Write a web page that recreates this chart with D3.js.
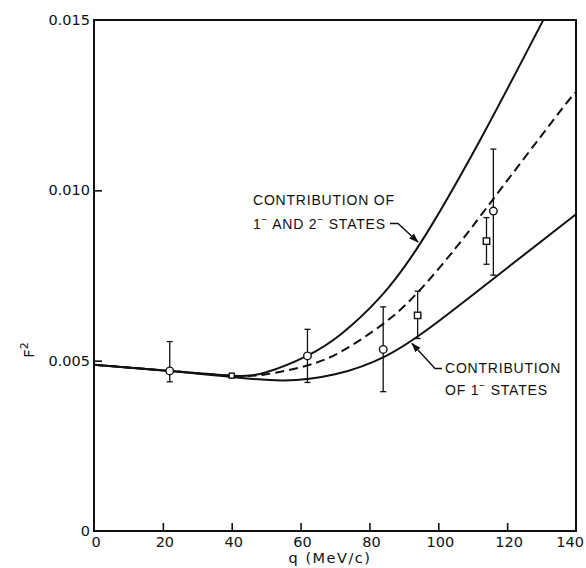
<!DOCTYPE html>
<html>
<head>
<meta charset="utf-8">
<script src="https://cdn.jsdelivr.net/npm/d3@7"></script>
<style>
  body { margin: 0; background: #fff; }
  svg { display: block; }
  .lbl { font-family: "Liberation Sans", Arial, sans-serif; font-size: 14px; letter-spacing: 0.8px; fill: #111; }
  .tick { font-family: "DejaVu Sans", sans-serif; font-size: 14.5px; fill: #111; }
</style>
</head>
<body>
<svg id="chart" width="586" height="568"></svg>
<script>
// curves (q in MeV/c, F^2)
var qBoth =   [0, 22, 40, 50, 62, 72, 83, 95, 112, 130.5]
var fBoth =   [0.00488, 0.00470, 0.00456, 0.00466, 0.00515, 0.00580, 0.00685, 0.00848, 0.01145, 0.01500]
var qOne =    [0, 22, 40, 55, 70, 85, 100, 120, 140]
var fOne =    [0.00488, 0.00470, 0.00452, 0.00442, 0.00460, 0.00515, 0.00615, 0.00772, 0.00930]
var qDash =   [0, 22, 40, 50, 62, 72, 84, 94, 105, 116, 133.4, 140]
var fDash =   [0.00488, 0.00470, 0.00456, 0.00460, 0.00486, 0.00528, 0.00608, 0.00700, 0.00830, 0.00975, 0.01206, 0.01290]

// measured points
var circQ =   [22, 62, 84, 116]
var circF =   [0.00470, 0.00514, 0.00533, 0.00939]
var circLo =  [0.00438, 0.00436, 0.00409, 0.00751]
var circHi =  [0.00556, 0.00592, 0.00658, 0.01121]
var sqQ =     [40, 94, 114]
var sqF =     [0.00456, 0.00633, 0.00851]
var sqLo =    [null, 0.00565, 0.00783]
var sqHi =    [null, 0.00704, 0.00920]

var xTicks = [0, 20, 40, 60, 80, 100, 120, 140]
var yTicks = [0, 0.005, 0.010, 0.015]
var yTickLabels = ['0', '0.005', '0.010', '0.015']

var svg = d3.select('#chart')
var plotL = 94, plotR = 576, plotT = 20, plotB = 531

var x = d3.scaleLinear().domain([0, 140]).range([plotL, plotR])
var y = d3.scaleLinear().domain([0, 0.015]).range([plotB, plotT])

var ink = '#111'

// frame
svg.append('rect')
    .attr('x', plotL).attr('y', plotT)
    .attr('width', plotR - plotL).attr('height', plotB - plotT)
    .attr('fill', 'none').attr('stroke', ink).attr('stroke-width', 2)

// ticks pointing inward
var xAxis = d3.axisTop(x).tickValues(xTicks.slice(1, -1)).tickSize(8).tickFormat('')
svg.append('g').attr('transform', `translate(0,${plotB})`).call(xAxis)
    .call(g => g.select('.domain').remove())
    .selectAll('line').attr('stroke', ink).attr('stroke-width', 1.6)

var yAxis = d3.axisRight(y).tickValues(yTicks.slice(1, -1)).tickSize(8).tickFormat('')
svg.append('g').attr('transform', `translate(${plotL},0)`).call(yAxis)
    .call(g => g.select('.domain').remove())
    .selectAll('line').attr('stroke', ink).attr('stroke-width', 1.6)

// tick labels
svg.selectAll('.xl').data(xTicks).enter().append('text')
    .attr('class', 'tick')
    .attr('x', d => d == 140 ? 584 : x(d) + 2)
    .attr('y', plotB + 16)
    .attr('text-anchor', d => d == 140 ? 'end' : 'middle')
    .text(d => d)

svg.selectAll('.yl').data(yTicks).enter().append('text')
    .attr('class', 'tick')
    .attr('x', (d, i) => i == 0 ? plotL - 4 : plotL - 4)
    .attr('y', d => y(d)).attr('dy', '0.35em')
    .attr('text-anchor', 'end')
    .text((d, i) => yTickLabels[i])

// axis titles
svg.append('text').attr('class', 'tick')
    .attr('x', 330).attr('y', 563).attr('text-anchor', 'middle')
    .attr('letter-spacing', 1.5)
    .text('q (MeV/c)')

var fl = svg.append('text').attr('class', 'tick')
    .attr('transform', 'translate(34,350) rotate(-90)')
    .attr('text-anchor', 'middle')
    .attr('font-size', 16)
fl.append('tspan').text('F')
fl.append('tspan').attr('font-size', 11).attr('dy', -6).text('2')

// curves
var line = d3.line().x(d => x(d[0])).y(d => y(d[1])).curve(d3.curveNatural)
function curve(qs, fs, dash) {
    svg.append('path')
        .datum(d3.zip(qs, fs))
        .attr('d', line)
        .attr('fill', 'none')
        .attr('stroke', ink)
        .attr('stroke-width', 2)
        .attr('stroke-dasharray', dash || null)
}
curve(qOne, fOne)
curve(qBoth, fBoth)
curve(qDash, fDash, '9,5')

// error bars
function errs(qs, lo, hi) {
    qs.forEach((q, i) => {
        if (lo[i] == null) return
        var g = svg.append('g').attr('stroke', ink).attr('stroke-width', 1.3)
        g.append('line').attr('x1', x(q)).attr('x2', x(q)).attr('y1', y(lo[i])).attr('y2', y(hi[i]))
        g.append('line').attr('x1', x(q) - 3).attr('x2', x(q) + 3).attr('y1', y(lo[i])).attr('y2', y(lo[i]))
        g.append('line').attr('x1', x(q) - 3).attr('x2', x(q) + 3).attr('y1', y(hi[i])).attr('y2', y(hi[i]))
    })
}
errs(circQ, circLo, circHi)
errs(sqQ, sqLo, sqHi)

svg.selectAll('.circ').data(d3.zip(circQ, circF)).enter().append('circle')
    .attr('cx', d => x(d[0])).attr('cy', d => y(d[1])).attr('r', 3.8)
    .attr('fill', '#fff').attr('stroke', ink).attr('stroke-width', 1.4)

svg.selectAll('.sq').data(d3.zip(sqQ, sqF)).enter().append('rect')
    .attr('x', (d, i) => x(d[0]) - (i == 0 ? 2.5 : 3.2))
    .attr('y', (d, i) => y(d[1]) - (i == 0 ? 2.5 : 3.2))
    .attr('width', (d, i) => i == 0 ? 5 : 6.4)
    .attr('height', (d, i) => i == 0 ? 5 : 6.4)
    .attr('fill', '#fff').attr('stroke', ink).attr('stroke-width', 1.4)

// annotations
svg.append('text').attr('class', 'lbl').attr('x', 253).attr('y', 205).text('CONTRIBUTION OF')
var t2 = svg.append('text').attr('class', 'lbl').attr('x', 253).attr('y', 229)
t2.append('tspan').text('1')
t2.append('tspan').attr('font-size', 10).attr('dy', -6).text('\u2212')
t2.append('tspan').attr('dy', 6).text(' AND 2')
t2.append('tspan').attr('font-size', 10).attr('dy', -6).text('\u2212')
t2.append('tspan').attr('dy', 6).text(' STATES')

svg.append('text').attr('class', 'lbl').attr('x', 445).attr('y', 373).text('CONTRIBUTION')
var t3 = svg.append('text').attr('class', 'lbl').attr('x', 445).attr('y', 395)
t3.append('tspan').text('OF 1')
t3.append('tspan').attr('font-size', 10).attr('dy', -6).text('\u2212')
t3.append('tspan').attr('dy', 6).text(' STATES')

// leaders with arrowheads
svg.append('defs').append('marker')
    .attr('id', 'arr').attr('viewBox', '0 0 10 10').attr('refX', 9).attr('refY', 5)
    .attr('markerWidth', 7).attr('markerHeight', 7).attr('orient', 'auto')
    .append('path').attr('d', 'M0,1.5L10,5L0,8.5z').attr('fill', ink)

svg.append('path').attr('d', 'M390,223.5L398,223.5L418,242')
    .attr('fill', 'none').attr('stroke', ink).attr('stroke-width', 1.4).attr('marker-end', 'url(#arr)')
svg.append('path').attr('d', 'M442,368.5L435,368.5L412,343.5')
    .attr('fill', 'none').attr('stroke', ink).attr('stroke-width', 1.4).attr('marker-end', 'url(#arr)')
</script>
</body>
</html>
